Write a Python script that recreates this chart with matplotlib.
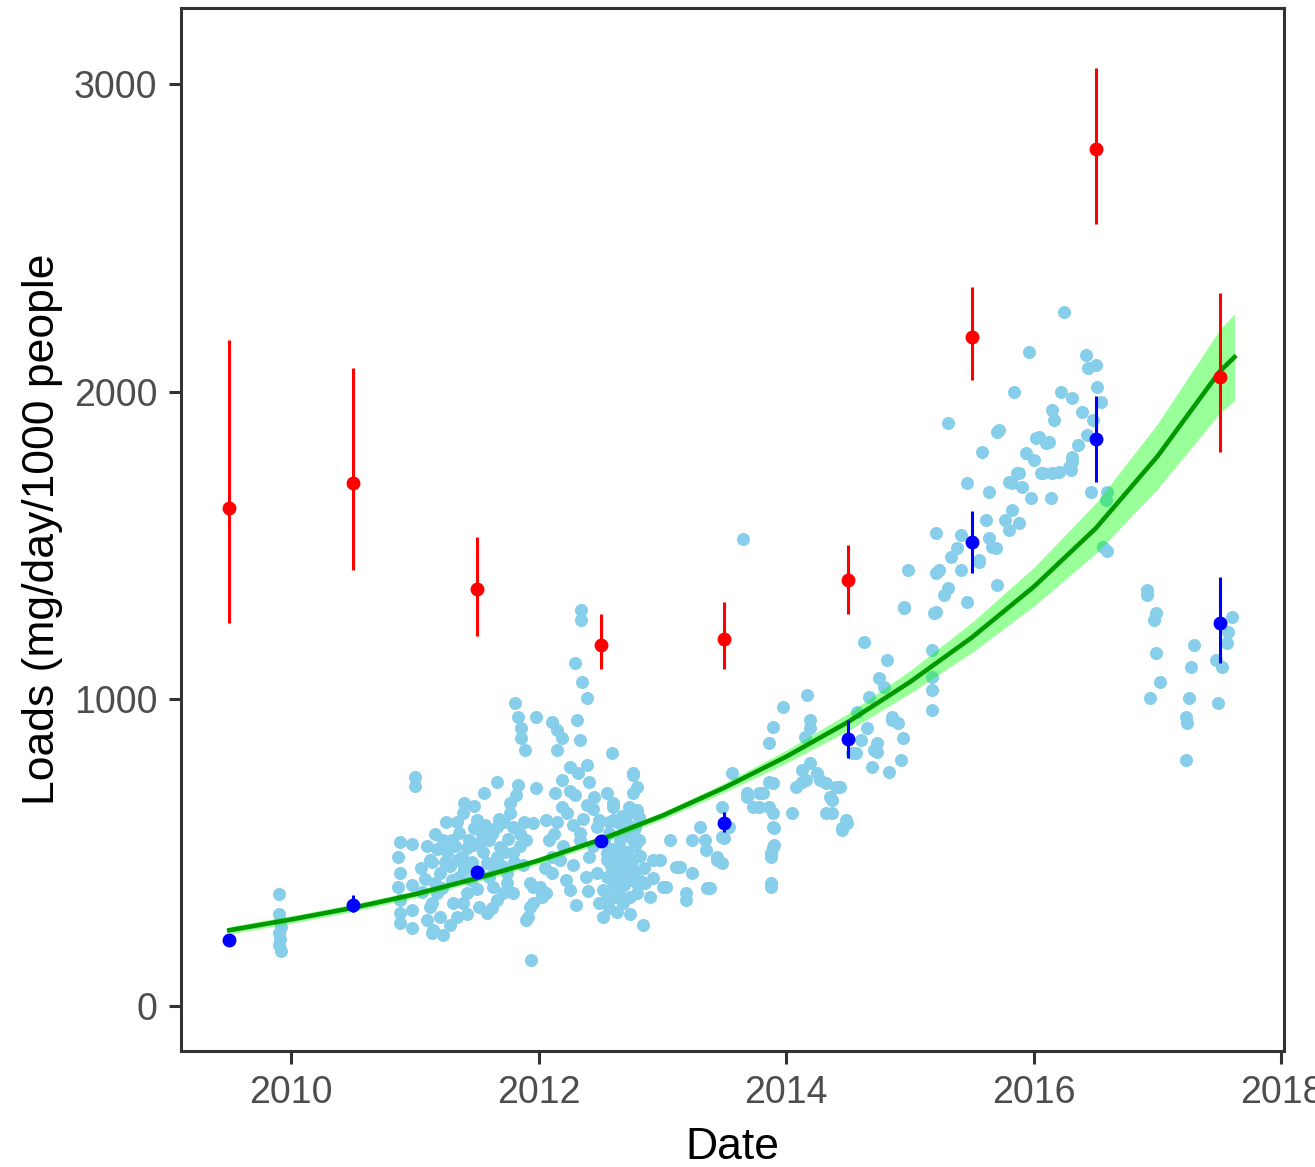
import numpy as np
import matplotlib
matplotlib.use('Agg')
import matplotlib.pyplot as plt

plt.rcParams['font.family'] = ['Liberation Sans', 'DejaVu Sans']

# individual samples: (decimal year, load in mg/day/1000 people)
samples = np.array([
    # 2009-2010
    (2009.90, 365), (2009.90, 300), (2009.91, 278), (2009.92, 258), (2009.90, 238),
    (2009.91, 218), (2009.90, 198), (2009.92, 178),
    # late 2010 - early 2011
    (2010.88, 534), (2010.98, 527), (2010.86, 485), (2010.88, 433), (2010.86, 387),
    (2010.98, 394), (2010.88, 345), (2010.88, 303), (2010.88, 270), (2010.98, 312),
    (2010.98, 254), (2011.14, 469), (2011.14, 335), (2011.14, 238), (2011.00, 745),
    (2011.00, 716), (2011.12, 475), (2011.23, 540), (2011.34, 475), (2011.38, 485),
    (2011.20, 433), (2011.30, 410), (2011.18, 368), (2011.12, 322), (2011.20, 290),
    (2011.15, 247), (2011.23, 231), (2011.31, 335), (2011.39, 335), (2011.42, 368),
    (2011.34, 290),
    # 2011
    (2011.52, 322), (2011.58, 303), (2011.66, 345), (2011.71, 368), (2011.63, 387),
    (2011.74, 400), (2011.39, 628), (2011.40, 661), (2011.34, 600), (2011.50, 605),
    (2011.30, 540), (2011.44, 540), (2011.52, 530), (2011.42, 514), (2011.60, 540),
    (2011.66, 583), (2011.77, 628), (2011.79, 583), (2011.69, 517), (2011.79, 498),
    (2011.90, 540), (2011.95, 595), (2011.58, 465), (2011.66, 485), (2011.52, 433),
    (2011.74, 433), (2011.79, 368), (2011.95, 387), (2012.03, 355), (2011.93, 322),
    (2011.91, 290), (2011.95, 335), (2011.66, 729), (2011.56, 693), (2011.82, 687),
    (2011.83, 719), (2011.98, 709), (2011.77, 661), (2011.81, 986), (2011.83, 940),
    (2011.86, 904), (2011.86, 872), (2011.89, 833), (2011.98, 940), (2011.94, 150),
    (2011.93, 400), (2012.03, 368), (2011.90, 280),
    (2011.08, 415), (2011.10, 520), (2011.16, 560), (2011.26, 500), (2011.28, 455),
    (2011.36, 565), (2011.46, 470), (2011.48, 580), (2011.55, 500), (2011.62, 560),
    (2011.70, 455), (2011.72, 600), (2011.85, 520), (2011.87, 460), (2011.22, 385),
    (2011.45, 410), (2011.06, 370), (2011.28, 265), (2011.60, 420), (2011.85, 560),
    (2011.25, 600), (2011.10, 280),
    (2011.18, 510), (2011.32, 520), (2011.40, 445), (2011.47, 525), (2011.54, 560),
    (2011.57, 590), (2011.64, 450), (2011.68, 610), (2011.75, 545), (2011.80, 470),
    (2011.24, 470), (2011.36, 420), (2011.50, 380), (2011.42, 300), (2011.62, 320),
    (2011.05, 450), (2011.16, 400), (2011.72, 500), (2011.88, 600), (2011.48, 650),
    # 2012, first half
    (2012.11, 924), (2012.15, 898), (2012.19, 872), (2012.15, 833), (2012.31, 930),
    (2012.33, 866), (2012.35, 1054), (2012.39, 1002), (2012.29, 1116), (2012.34, 1289),
    (2012.34, 1256), (2012.25, 778), (2012.39, 784), (2012.19, 735), (2012.41, 729),
    (2012.13, 693), (2012.29, 687), (2012.19, 648), (2012.39, 654), (2012.06, 605),
    (2012.23, 628), (2012.33, 563), (2012.47, 583), (2012.17, 475), (2012.11, 433),
    (2012.01, 387), (2012.06, 368), (2012.25, 377), (2012.11, 485), (2012.33, 540),
    (2012.41, 485), (2012.47, 433), (2012.49, 335),
    (2012.08, 540), (2012.20, 520), (2012.28, 460), (2012.38, 420), (2012.15, 600),
    (2012.36, 610), (2012.44, 520), (2012.22, 410), (2012.30, 330), (2012.40, 375),
    (2012.05, 450), (2012.45, 680),
    (2012.25, 700), (2012.32, 760), (2012.44, 640), (2012.28, 590), (2012.12, 560),
    # 2012, second half
    (2012.59, 823), (2012.76, 752), (2012.55, 693), (2012.76, 693), (2012.60, 661),
    (2012.60, 605), (2012.73, 628), (2012.55, 498), (2012.65, 517), (2012.76, 540),
    (2012.76, 758), (2012.79, 713), (2012.60, 648), (2012.73, 648), (2012.81, 615),
    (2012.49, 605), (2012.65, 595), (2012.57, 563), (2012.73, 563), (2012.81, 540),
    (2012.55, 475), (2012.65, 485), (2012.76, 475), (2012.60, 433), (2012.73, 433),
    (2012.81, 410), (2012.52, 377), (2012.65, 377), (2012.79, 368), (2012.90, 355),
    (2012.68, 335), (2012.52, 290), (2012.84, 264), (2012.92, 475), (2012.79, 638),
    (2012.53, 540), (2012.58, 455), (2012.62, 400), (2012.68, 560), (2012.70, 460),
    (2012.70, 350), (2012.75, 410), (2012.78, 520), (2012.85, 450), (2012.57, 320),
    (2012.63, 305), (2012.74, 300), (2012.58, 510), (2012.67, 420), (2012.82, 490),
    (2012.62, 355), (2012.72, 590),
    (2012.55, 420), (2012.59, 385), (2012.64, 445), (2012.66, 540), (2012.69, 395),
    (2012.71, 500), (2012.77, 440), (2012.80, 395), (2012.54, 345), (2012.61, 470),
    (2012.67, 620), (2012.78, 580), (2012.86, 400), (2012.74, 355), (2012.57, 600),
    # 2013
    (2013.06, 540), (2013.24, 540), (2013.30, 583), (2013.35, 508), (2013.44, 475),
    (2013.11, 452), (2013.24, 433), (2013.00, 387), (2013.19, 345), (2013.36, 384),
    (2013.48, 550), (2013.48, 465), (2012.98, 475), (2013.14, 452), (2012.92, 416),
    (2013.03, 387), (2013.19, 368), (2013.38, 384), (2013.48, 648), (2013.54, 583),
    (2013.50, 547), (2013.34, 540), (2013.44, 485), (2013.65, 1520),
    (2013.89, 908), (2013.86, 856), (2013.56, 758), (2013.68, 693), (2013.78, 648),
    (2013.89, 628), (2013.89, 583), (2013.88, 498), (2013.88, 400), (2013.88, 387),
    (2013.89, 517), (2013.88, 485), (2013.68, 680), (2013.81, 693), (2013.73, 648),
    (2013.89, 726), (2013.86, 729), (2013.78, 693), (2013.86, 648), (2013.90, 579),
    (2013.90, 524),
    # 2014
    (2014.17, 1012), (2013.97, 973), (2014.19, 930), (2014.19, 905), (2014.15, 875),
    (2014.19, 791), (2014.13, 768), (2014.25, 758), (2014.13, 729), (2014.32, 726),
    (2014.43, 713), (2014.37, 670), (2014.32, 628), (2014.05, 628), (2014.08, 713),
    (2014.16, 735), (2014.27, 735), (2014.40, 713), (2014.35, 680), (2014.37, 628),
    (2014.48, 605), (2014.45, 579), (2014.49, 595), (2014.45, 573), (2014.53, 823),
    (2014.69, 778), (2014.65, 905),
    (2014.63, 1184), (2014.95, 1298), (2015.19, 1279), (2014.81, 1126), (2014.75, 1067),
    (2014.79, 1038), (2015.18, 1158), (2015.18, 1071), (2015.18, 1028), (2015.18, 963),
    (2014.85, 930), (2014.94, 872), (2014.60, 866), (2014.73, 856), (2014.73, 827),
    (2014.56, 823), (2014.93, 800), (2014.83, 761), (2014.67, 1005), (2014.57, 957),
    (2014.85, 940), (2014.90, 921), (2014.71, 833),
    # 2015 - 2016
    (2014.98, 1419), (2015.21, 1409), (2015.41, 1419), (2015.56, 1445), (2015.31, 1360),
    (2015.27, 1337), (2015.46, 1315), (2015.21, 1282), (2014.95, 1295), (2015.70, 1370),
    (2015.84, 1998), (2016.22, 1998), (2016.31, 1978), (2016.15, 1939), (2016.16, 1907),
    (2015.31, 1897), (2015.72, 1874), (2016.02, 1848), (2016.10, 1832), (2015.58, 1803),
    (2015.94, 1799), (2016.00, 1777), (2016.31, 1786), (2016.28, 1754), (2016.06, 1734),
    (2016.20, 1738), (2015.88, 1734), (2015.82, 1702), (2015.90, 1689), (2015.46, 1702),
    (2015.64, 1673), (2015.98, 1653), (2016.14, 1653), (2015.82, 1614), (2015.77, 1581),
    (2015.88, 1572), (2015.80, 1549), (2015.61, 1581), (2015.21, 1539), (2015.41, 1532),
    (2015.64, 1523), (2015.69, 1490), (2015.38, 1490), (2015.33, 1461), (2015.56, 1451),
    (2015.23, 1419), (2016.24, 2258), (2015.96, 2128), (2016.42, 2118), (2016.50, 2086),
    (2016.44, 2076), (2016.51, 2014), (2016.54, 1965), (2016.39, 1933), (2016.48, 1907),
    (2016.43, 1858), (2016.04, 1852), (2016.12, 1835), (2016.36, 1825), (2016.31, 1770),
    (2015.86, 1734), (2016.07, 1734), (2015.70, 1868), (2016.15, 1734), (2016.30, 1744),
    (2015.80, 1705), (2016.46, 1673), (2015.66, 1494), (2016.59, 1481), (2016.59, 1673),
    (2016.58, 1647), (2016.56, 1494),
    # 2017
    (2016.91, 1354), (2016.91, 1337), (2016.99, 1279), (2016.97, 1256), (2016.99, 1149),
    (2017.02, 1054), (2016.94, 1002), (2017.29, 1175), (2017.27, 1103), (2017.25, 1002),
    (2017.23, 940), (2017.24, 921), (2017.23, 800), (2017.60, 1266), (2017.57, 1217),
    (2017.56, 1181), (2017.47, 1126), (2017.52, 1103), (2017.49, 986),
])

# yearly summaries, plotted mid-year
summary_year = [2009.5, 2010.5, 2011.5, 2012.5, 2013.5, 2014.5, 2015.5, 2016.5, 2017.5]
red_mean = [1620, 1702, 1357, 1175, 1194, 1386, 2177, 2789, 2047]
red_lo = [1246, 1419, 1204, 1097, 1097, 1276, 2037, 2545, 1803]
red_hi = [2167, 2076, 1526, 1276, 1315, 1500, 2340, 3052, 2320]
blue_mean = [215, 329, 436, 537, 595, 869, 1510, 1845, 1246]
blue_lo = [205, 306, 424, 525, 566, 807, 1409, 1705, 1116]
blue_hi = [225, 361, 448, 549, 631, 931, 1611, 1985, 1396]

# exponential trend with confidence band
fit_year = [2009.5, 2010.0, 2010.5, 2011.0, 2011.5, 2012.0, 2012.5, 2013.0, 2013.5,
            2014.0, 2014.5, 2015.0, 2015.5, 2016.0, 2016.5, 2017.0, 2017.5, 2017.62]
fit_load = [247, 282, 320, 364, 416, 474, 542, 620, 711,
            812, 925, 1055, 1200, 1365, 1555, 1790, 2065, 2112]
fit_lo = [235, 270, 308, 353, 405, 463, 531, 608, 696,
          791, 897, 1018, 1151, 1302, 1473, 1684, 1929, 1971]
fit_hi = [259, 294, 332, 375, 427, 485, 553, 632, 726,
          833, 953, 1092, 1249, 1428, 1637, 1896, 2201, 2253]

fig = plt.figure(figsize=(13.15, 11.67), dpi=100)
ax = fig.add_axes([0.1376, 0.0994, 0.8388, 0.8937])

ax.scatter(samples[:, 0], samples[:, 1], s=88, color='skyblue', linewidths=0, zorder=1)
ax.fill_between(fit_year, fit_lo, fit_hi, color='#00ff00', alpha=0.4, linewidth=0, zorder=2)
ax.plot(fit_year, fit_load, color='#009900', linewidth=3.3, zorder=3)

rm = np.array(red_mean)
bm = np.array(blue_mean)
ax.errorbar(summary_year, bm, yerr=[bm - np.array(blue_lo), np.array(blue_hi) - bm],
            fmt='o', color='blue', ms=9, elinewidth=2.2, capsize=0, zorder=4)
ax.errorbar(summary_year, rm, yerr=[rm - np.array(red_lo), np.array(red_hi) - rm],
            fmt='o', color='red', ms=9, elinewidth=2.2, capsize=0, zorder=5)

ax.set_xlim(2009.11, 2018.02)
ax.set_ylim(-146, 3248)
ax.set_xticks([2010, 2012, 2014, 2016, 2018])
ax.set_yticks([0, 1000, 2000, 3000])
ax.set_xticklabels(['2010', '2012', '2014', '2016', '2018'])
ax.set_yticklabels(['0', '1000', '2000', '3000'])

for sp in ax.spines.values():
    sp.set_color('#333333')
    sp.set_linewidth(2.2)
ax.tick_params(axis='both', length=9, width=2.2, color='#333333',
               labelsize=27, labelcolor='#4D4D4D', pad=8)

ax.set_xlabel('Date', fontsize=32, color='black', labelpad=12)
ax.set_ylabel('Loads (mg/day/1000 people', fontsize=32, color='black', labelpad=8)

fig.savefig('out.png', dpi=100)
